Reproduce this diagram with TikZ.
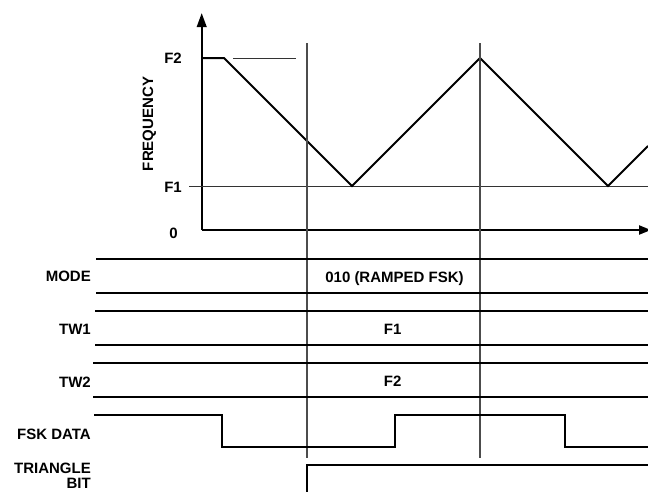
\documentclass[tikz,border=0pt]{standalone}
\usepackage{fontspec}
\setmainfont{Liberation Sans}
\usetikzlibrary{arrows.meta}
\begin{document}
\begin{tikzpicture}[x=1pt,y=-1pt,
  lbl/.style={inner sep=0pt,font=\fontsize{15}{16}\selectfont\bfseries},
  axis/.style={line width=2.2pt,line cap=butt},
  sig/.style={line width=2pt,line join=miter},
  thin/.style={line width=1pt,black!80},
  marker/.style={line width=1.2pt,black!70}]
\useasboundingbox (0,0) rectangle (648,491);
% axes
\coordinate (O) at (201.7,230);
\coordinate (Ytop) at (201.7,13);
\coordinate (Xend) at (651,230);
\draw[axis,-{Triangle[length=14pt,width=9.5pt]}] (O) -- (Ytop);
\draw[axis,-{Triangle[length=12pt,width=9pt]}] (O) -- (Xend);
% reference levels
\coordinate (F1a) at (189,186.5);
\coordinate (F1b) at (648,186.5);
\draw[thin] (F1a) -- (F1b);
\coordinate (F2a) at (233,58);
\coordinate (F2b) at (296,58);
\draw[thin] (F2a) -- (F2b);
% triangle wave
\draw[line width=2pt,line join=miter] (201.7,58) -- (224,58) -- (352,186) -- (480,58) -- (608,186) -- (648,146);
% vertical markers
\coordinate (V1t) at (307,43); \coordinate (V1b) at (307,458);
\coordinate (V2t) at (480,43); \coordinate (V2b) at (480,458);
\draw[marker] (V1t) -- (V1b);
\draw[marker] (V2t) -- (V2b);
% bus lines
\draw[sig] (96,259.3) -- (648,259.3);
\draw[sig] (96,292.7) -- (648,292.7);
\draw[sig] (95,311) -- (648,311);
\draw[sig] (95,345) -- (648,345);
\draw[sig] (93,363) -- (648,363);
\draw[sig] (93,396.7) -- (648,396.7);
% FSK data
\draw[sig] (94,415) -- (221.7,415) -- (221.7,446.7) -- (395,446.7) -- (395,415) -- (565,415) -- (565,446.7) -- (648,446.7);
% triangle bit
\draw[sig] (307,492) -- (307,465) -- (648,465);
% axis labels
\node[lbl,anchor=base east] (lF2) at (182,63.5) {F2};
\node[lbl,anchor=base east] (lF1) at (182,192) {F1};
\node[lbl,anchor=base east] (l0) at (178,238) {0};
\node[lbl,anchor=base,rotate=90] (lfreq) at (153,124) {FREQUENCY};
% signal labels
\node[lbl,anchor=base east] (lmode) at (91,281) {MODE};
\node[lbl,anchor=base east] (ltw1) at (91,334.3) {TW1};
\node[lbl,anchor=base east] (ltw2) at (91,387) {TW2};
\node[lbl,anchor=base east] (lfsk) at (91,439) {FSK DATA};
\node[lbl,anchor=base east] (ltri) at (91,473) {TRIANGLE};
\node[lbl,anchor=base east] (lbit) at (91,488) {BIT};
% values
\node[lbl,anchor=base] (vmode) at (394.5,282.5) {010 (RAMPED FSK)};
\node[lbl,anchor=base] (vtw1) at (392.7,334.3) {F1};
\node[lbl,anchor=base] (vtw2) at (392.7,386.7) {F2};
\end{tikzpicture}
\end{document}
